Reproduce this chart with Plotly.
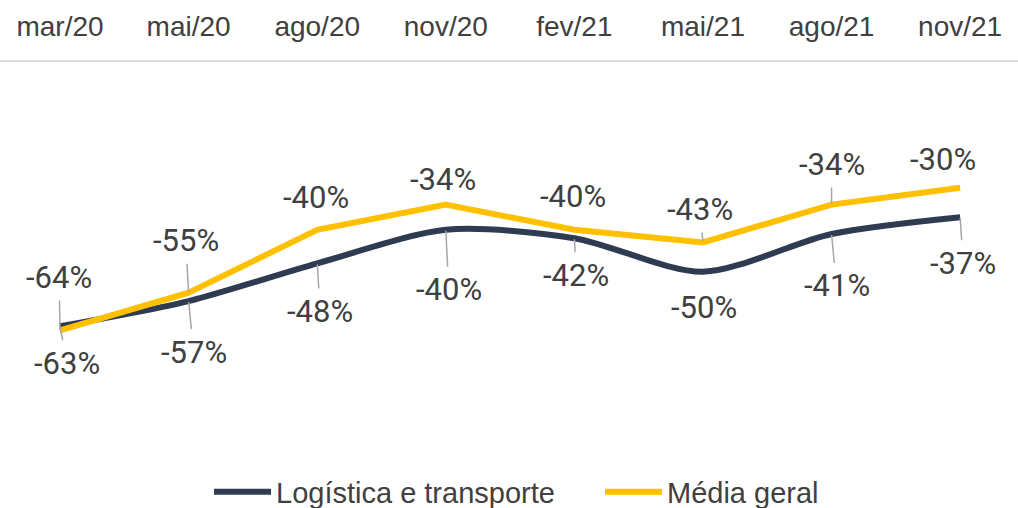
import plotly.graph_objects as go

categories = ["mar/20", "mai/20", "ago/20", "nov/20", "fev/21", "mai/21", "ago/21", "nov/21"]
logistica = [-63, -57, -48, -40, -42, -50, -41, -37]
media = [-64, -55, -40, -34, -40, -43, -34, -30]

NAVY = "#2F3B50"
YELLOW = "#FFC000"
TXT = "#404040"
LEAD = "#A6A6A6"

# label offsets (px) relative to each point: (ax, ay, leader)
media_off = [(-1, -53, True), (-3, -52, True), (-1, -32, False), (-3, -25, False),
             (-1, -33, False), (-3, -33, True), (0, -40, True), (-17, -28, False)]
log_off = [(7, 37, True), (5, 51, True), (3, 48, True), (3, 60, True),
           (2, 37, True), (1, 36, False), (5, 52, True), (3, 46, True)]

fig = go.Figure()
fig.add_trace(go.Scatter(x=categories, y=logistica, mode="lines", name="Logística e transporte",
                         line=dict(color=NAVY, width=6, shape="spline", smoothing=0.8)))
fig.add_trace(go.Scatter(x=categories, y=media, mode="lines", name="Média geral",
                         line=dict(color=YELLOW, width=6)))

anns = []
for series, offs in ((media, media_off), (logistica, log_off)):
    for c, v, (ax, ay, lead) in zip(categories, series, offs):
        anns.append(dict(x=c, y=v, xref="x", yref="y", text=f"{v}%",
                         showarrow=True, arrowhead=0, arrowwidth=1.5,
                         arrowcolor=LEAD if lead else "rgba(0,0,0,0)",
                         ax=ax, ay=ay, standoff=1, borderpad=4,
                         font=dict(family="Roboto", size=31, color=TXT)))

fig.update_layout(
    width=1018, height=508,
    margin=dict(l=0, r=0, t=62, b=58, autoexpand=False),
    paper_bgcolor="white", plot_bgcolor="white",
    showlegend=True,
    legend=dict(orientation="h", x=209 / 1018, xanchor="left",
                yref="container", y=1 - 492 / 508, yanchor="middle",
                font=dict(family="Liberation Sans, Arial", size=29, color=TXT),
                itemwidth=57, tracegroupgap=0, entrywidth=319, entrywidthmode="pixels"),
    annotations=anns,
    xaxis=dict(side="top", type="category", range=[-0.467, 7.45], showgrid=False,
               showline=True, linecolor="#D9D9D9", linewidth=2, ticks="",
               tickfont=dict(family="Liberation Sans, Arial", size=28, color=TXT),
               ticklabelstandoff=13, automargin=False, zeroline=False),
    yaxis=dict(range=[-92.5, 0], visible=False, showgrid=False, zeroline=False,
               automargin=False),
)

fig.write_html("out.html", config={"displayModeBar": False},
               post_script="document.body.style.margin='0px';")
